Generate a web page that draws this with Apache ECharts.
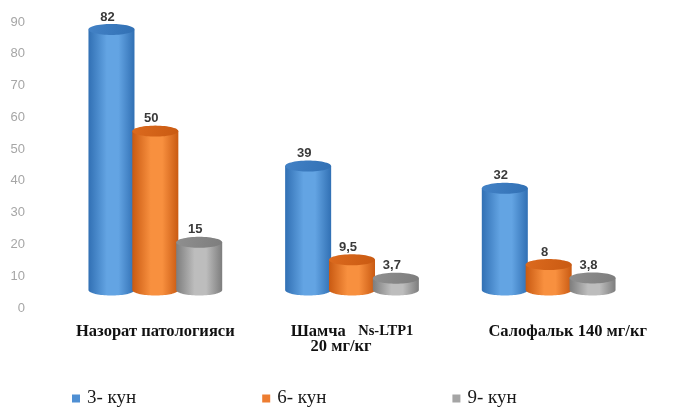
<!DOCTYPE html>
<html>
<head>
<meta charset="utf-8">
<script src="https://cdn.jsdelivr.net/npm/echarts@6/dist/echarts.min.js"></script>
<style>
  html, body { margin: 0; padding: 0; background: #fff; }
  #chart { width: 694px; height: 410px; }
</style>
</head>
<body>
<div id="chart"></div>
<script>
// Groups on the x axis
const categories = ['Назорат патологияси', 'Шамча Ns-LTP1 20 мг/кг', 'Салофальк 140 мг/кг'];
// Observation days (series)
const seriesNames = ['3- кун', '6- кун', '9- кун'];
// Values per day, one entry per group
const day3 = [82, 39, 32];
const day6 = [50, 9.5, 8];
const day9 = [15, 3.7, 3.8];
// Y axis range
const yMin = 0, yMax = 90, yStep = 10;

const SERIF = 'Liberation Serif';

// Cylinder colour sets: body gradient (edge, light, edge) and the cap
const palettes = [
  { edge: '#3170b4', mid: '#63a4e3', cap: '#4382c6', legend: '#4f8fd3' },
  { edge: '#c95a12', mid: '#f8903f', cap: '#dc6a1e', legend: '#ed7d31' },
  { edge: '#7d7d7d', mid: '#bdbdbd', cap: '#8f8f8f', legend: '#a5a5a5' }
];

function ellipsePoints(cx, cy, rx, ry, from, to, n) {
  const pts = [];
  for (let i = 0; i <= n; i++) {
    const t = from + (to - from) * i / n;
    pts.push([cx + rx * Math.cos(t), cy + ry * Math.sin(t)]);
  }
  return pts;
}

function fmt(v) { return String(v).replace('.', ','); }

function makeRender(k) {
  const pal = palettes[k];
  return function (params, api) {
    const ci = api.value(0);
    const val = api.value(1);
    const base = api.coord([ci, 0]);
    const top = api.coord([ci, val]);
    const band = api.size([1, 0])[0];
    const step = band * 0.223;
    const rx = band * 0.117;
    const ry = 5.5;
    const depth = 18; // floor of the 3D scene sits behind the axis baseline
    const cx = base[0] + (k - 1) * step;
    const yb = base[1] - depth;
    const yt = top[1] - depth;

    const body = [[cx - rx, yt]].concat(
      ellipsePoints(cx, yb, rx, ry, Math.PI, 0, 40),
      [[cx + rx, yt]]
    );
    const cap = ellipsePoints(cx, yt, rx, ry, 0, Math.PI * 2, 60);

    return {
      type: 'group',
      children: [
        {
          type: 'polygon',
          shape: { points: body },
          style: {
            fill: {
              type: 'linear', x: 0, y: 0, x2: 1, y2: 0,
              colorStops: [
                { offset: 0, color: pal.edge },
                { offset: 0.4, color: pal.mid },
                { offset: 0.65, color: pal.mid },
                { offset: 1, color: pal.edge }
              ]
            }
          }
        },
        {
          type: 'polygon',
          shape: { points: cap },
          style: {
            fill: {
              type: 'linear', x: 0, y: 0, x2: 1, y2: 1,
              colorStops: [
                { offset: 0, color: pal.cap },
                { offset: 1, color: pal.edge }
              ]
            }
          }
        },
        {
          type: 'text',
          style: {
            text: fmt(val),
            x: cx - 4,
            y: yt - ry - 0.5,
            align: 'center',
            verticalAlign: 'bottom',
            font: 'bold 13px "Liberation Sans", Arial, sans-serif',
            fill: '#3a3a3a'
          }
        }
      ]
    };
  };
}

const allData = [day3, day6, day9];

const chart = echarts.init(document.getElementById('chart'), null, { renderer: 'canvas' });
chart.setOption({
  animation: false,
  backgroundColor: '#ffffff',
  grid: { left: 57, right: 47, top: 22, bottom: 102 },
  legend: {
    data: seriesNames,
    left: 67,
    top: 384,
    icon: 'rect',
    itemWidth: 8,
    itemHeight: 8,
    itemGap: 126,
    textStyle: {
      fontFamily: SERIF,
      fontSize: 19,
      color: '#1a1a1a',
      padding: [0, 0, 0, 2]
    }
  },
  xAxis: {
    type: 'category',
    data: categories,
    axisLine: { show: false },
    axisTick: { show: false },
    axisLabel: {
      margin: 16,
      interval: 0,
      color: '#111',
      fontFamily: SERIF,
      fontWeight: 'bold',
      fontSize: 16.5,
      lineHeight: 15,
      formatter: function (v, i) {
        if (i === 1) return '{a|Шамча}   {b|Ns-LTP1}\n{d|20 мг/кг}';
        if (i === 2) return '{c|' + v + '}';
        return '{a|' + v + '}';
      },
      rich: {
        a: { fontFamily: SERIF, fontWeight: 'bold', fontSize: 16.5, color: '#111', lineHeight: 15 },
        b: { fontFamily: SERIF, fontWeight: 'bold', fontSize: 14.5, color: '#111', lineHeight: 15 },
        d: { fontFamily: SERIF, fontWeight: 'bold', fontSize: 16.5, color: '#111', lineHeight: 15, padding: [0, 22, 0, 0] },
        c: { fontFamily: SERIF, fontWeight: 'bold', fontSize: 16.5, color: '#111', lineHeight: 15, padding: [0, 0, 0, 38] }
      }
    }
  },
  yAxis: {
    type: 'value',
    min: yMin,
    max: yMax,
    interval: yStep,
    axisLine: { show: false },
    axisTick: { show: false },
    splitLine: { show: false },
    axisLabel: {
      margin: 32,
      color: '#a6a6a6',
      fontFamily: 'Liberation Sans',
      fontSize: 13
    }
  },
  series: seriesNames.map(function (name, k) {
    return {
      name: name,
      type: 'custom',
      itemStyle: { color: palettes[k].legend },
      encode: { x: 0, y: 1 },
      data: allData[k].map(function (v, i) { return [i, v]; }),
      renderItem: makeRender(k)
    };
  })
});
</script>
</body>
</html>
